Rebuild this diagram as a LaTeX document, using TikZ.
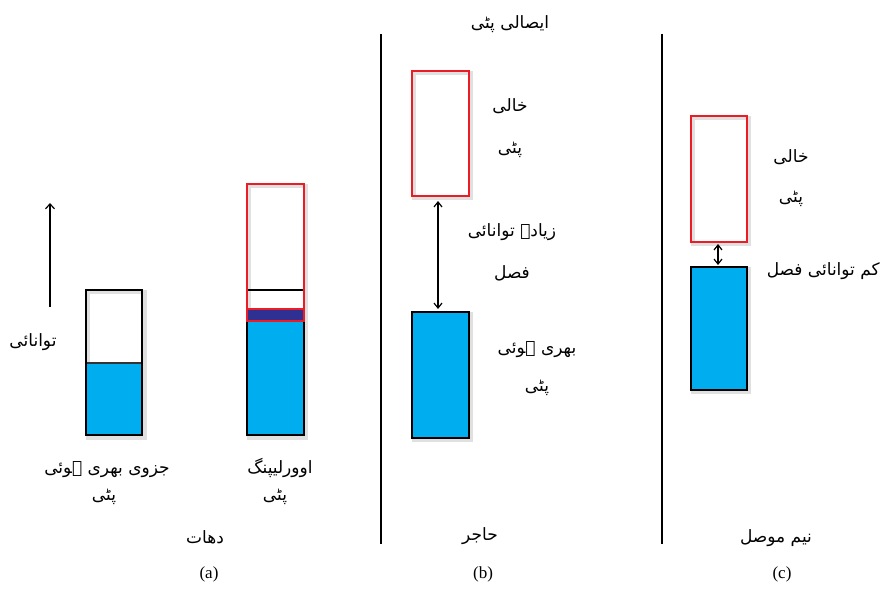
\documentclass[tikz,border=0pt]{standalone}
\usepackage{fontspec}
\setmainfont{Liberation Serif}
\newfontfamily\urdu[Script=Arabic]{DejaVu Sans}
\TeXXeTstate=1
\usetikzlibrary{arrows.meta}
\definecolor{bandblue}{HTML}{00AEEF}
\definecolor{deepblue}{HTML}{2E3192}
\definecolor{bandred}{HTML}{ED1C24}
\tikzset{
  ur/.style={font=\urdu\fontsize{17}{22}\selectfont, align=center, inner sep=0pt},
  lat/.style={font=\fontsize{17}{20}\selectfont, inner sep=0pt},
  glow/.style={draw=black!12, line width=4pt},
  fullband/.style={draw=black, line width=1.4pt, fill=bandblue},
  emptyband/.style={draw=bandred, line width=1.4pt},
  blackband/.style={draw=black, line width=1.4pt},
  divider/.style={draw=black, line width=1.2pt},
  gap/.style={draw=black, line width=1.2pt, {Straight Barb[length=5pt,width=8pt]}-{Straight Barb[length=5pt,width=8pt]}}
}
\begin{document}
\begin{tikzpicture}[x=1pt,y=-1pt]
\useasboundingbox (0,0) rectangle (882,591);
% ---------- panel (a) ----------
\coordinate (ebot) at (50,307);
\coordinate (etop) at (50,203);
\draw[line width=1.2pt,-{Straight Barb[length=5pt,width=9pt]}] (ebot) -- (etop);
\node[ur] (energy) at (33,342) {\beginR توانائی\endR};
% partially filled band
\draw[glow] (88,292) rectangle (145,438);
\path[fill=bandblue] (86,363) rectangle (142,435);
\draw[black!80, line width=1.2pt] (86,363) -- (142,363);
\draw[blackband] (86,290) rectangle (142,435);
% overlapping bands
\draw[glow] (249,186) rectangle (306,438);
\path[fill=bandblue] (247,321) rectangle (304,435);
\path[fill=deepblue] (247,309) rectangle (304,321);
\draw[blackband] (247,290) rectangle (304,435);
\draw[emptyband] (247,184) rectangle (304,321);
\draw[bandred, line width=1.4pt] (247,309) -- (304,309);
\node[ur] (pfill) at (107,470) {\beginR جزوی بھری ہوئی\endR};
\node[ur] (pfillb) at (104,497) {\beginR پٹی\endR};
\node[ur] (overl) at (280,468) {\beginR اوورلیپنگ\endR};
\node[ur] (overlb) at (275,497) {\beginR پٹی\endR};
\node[ur] (metal) at (205,537) {\beginR دھات\endR};
\node[lat] (la) at (209,574) {(a)};
% dividers
\coordinate (d1t) at (381,34);
\coordinate (d1b) at (381,544);
\coordinate (d2t) at (662,34);
\coordinate (d2b) at (662,544);
\draw[divider] (d1t) -- (d1b);
\draw[divider] (d2t) -- (d2b);
% ---------- panel (b) ----------
\node[ur] (cond) at (510,24) {\beginR ایصالی پٹی\endR};
\draw[glow] (414,73) rectangle (471,198);
\draw[emptyband] (412,71) rectangle (469,196);
\node[ur] (emptyb) at (510,106) {\beginR خالی\endR};
\node[ur] (emptybb) at (510,150) {\beginR پٹی\endR};
\draw[glow] (414,314) rectangle (471,440);
\draw[fullband] (412,312) rectangle (469,438);
\coordinate (bga) at (438,201);
\coordinate (bgb) at (438,309);
\draw[gap] (bga) -- (bgb);
\node[ur] (biggap) at (512,232) {\beginR زیادہ توانائی\endR};
\node[ur] (biggapb) at (512,273) {\beginR فصل\endR};
\node[ur] (fullb) at (537,350) {\beginR بھری ہوئی\endR};
\node[ur] (fullbb) at (537,388) {\beginR پٹی\endR};
\node[ur] (ins) at (480,536) {\beginR حاجر\endR};
\node[lat] (lb) at (483,574) {(b)};
% ---------- panel (c) ----------
\draw[glow] (693,118) rectangle (749,244);
\draw[emptyband] (691,116) rectangle (747,242);
\node[ur] (emptyc) at (791,157) {\beginR خالی\endR};
\node[ur] (emptycb) at (791,199) {\beginR پٹی\endR};
\draw[glow] (693,269) rectangle (749,392);
\draw[fullband] (691,267) rectangle (747,390);
\coordinate (cga) at (718,244);
\coordinate (cgb) at (718,265);
\draw[gap] (cga) -- (cgb);
\node[ur, anchor=east] (smallgap) at (880,271) {\beginR کم توانائی فصل\endR};
\node[ur] (semi) at (776,538) {\beginR نیم موصل\endR};
\node[lat] (lc) at (782,574) {(c)};
\end{tikzpicture}
\end{document}
